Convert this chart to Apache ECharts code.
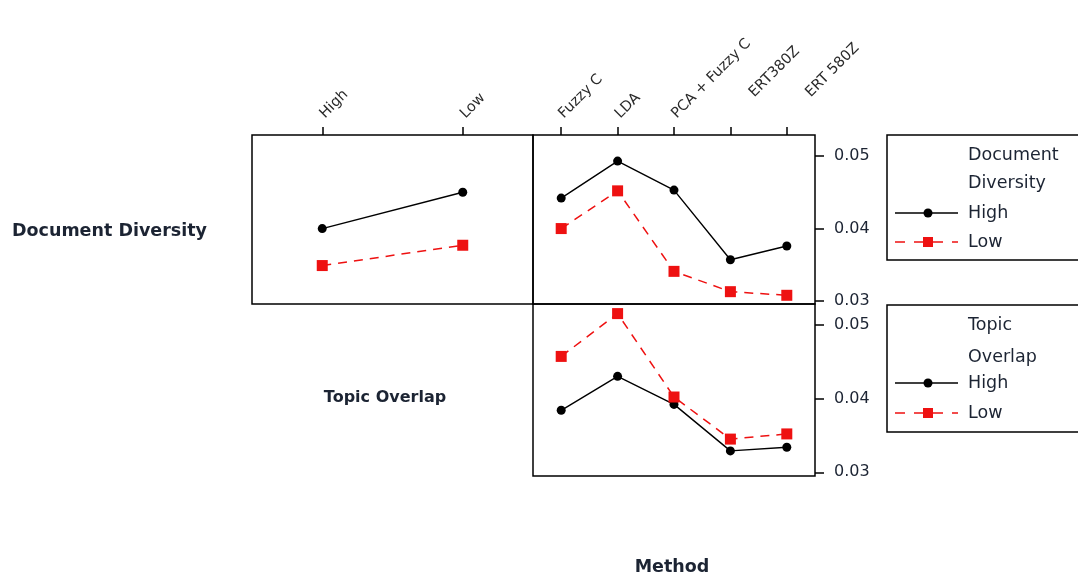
<!DOCTYPE html>
<html>
<head>
<meta charset="utf-8">
<title>Interaction Plot</title>
<script src="https://cdn.jsdelivr.net/npm/echarts@6/dist/echarts.min.js"></script>
<style>
  html, body { margin: 0; padding: 0; background: #ffffff; }
  #chart { width: 1078px; height: 576px; }
</style>
</head>
<body>
<div id="chart"></div>
<script>
// Levels of the x factors
const overlapLevels = ['High', 'Low'];
const methods = ['Fuzzy C', 'LDA', 'PCA + Fuzzy C', 'ERT380Z', 'ERT 580Z'];
const yTicks = [0.03, 0.04, 0.05];

// Document Diversity traced across Topic Overlap
const divHighByOverlap = [0.0400, 0.0450];
const divLowByOverlap = [0.0349, 0.0377];

// Document Diversity traced across Method
const divHighByMethod = [0.0442, 0.0493, 0.0453, 0.0357, 0.0376];
const divLowByMethod = [0.0400, 0.0452, 0.0341, 0.0313, 0.0308];

// Topic Overlap traced across Method
const ovHighByMethod = [0.0384, 0.0430, 0.0392, 0.0329, 0.0334];
const ovLowByMethod = [0.0457, 0.0515, 0.0402, 0.0345, 0.0352];

const FONT = 'DejaVu Sans';
const TEXT = '#1c2433';
const RED = '#ee1111';
const TICK_FONT = 14.5;

// The two ERT labels sit further out along their slant
const pushedLabels = ['ERT380Z', 'ERT 580Z'];

function highSeries(xi, yi, data) {
  return {
    type: 'line', xAxisIndex: xi, yAxisIndex: yi, data: data,
    symbol: 'circle', symbolSize: 9, showSymbol: true,
    lineStyle: { color: '#000', width: 1.4 },
    itemStyle: { color: '#000' }, z: 3, animation: false
  };
}
function lowSeries(xi, yi, data) {
  return {
    type: 'line', xAxisIndex: xi, yAxisIndex: yi, data: data,
    symbol: 'rect', symbolSize: 11, showSymbol: true,
    lineStyle: { color: RED, width: 1.5, type: [9, 7] },
    itemStyle: { color: RED }, z: 4, animation: false
  };
}

function topAxis(gi, data, showLabels) {
  return {
    type: 'category', gridIndex: gi, data: data, position: 'top',
    boundaryGap: true,
    axisLine: { show: false },
    axisTick: { show: showLabels, alignWithLabel: true, length: 8, lineStyle: { color: '#000', width: 1.5 } },
    axisLabel: {
      show: showLabels, rotate: -45, margin: 19, interval: 0,
      fontFamily: FONT, fontSize: TICK_FONT, color: '#2a2a2a',
      formatter: v => pushedLabels.indexOf(v) >= 0 ? '{far|' + v + '}' : v,
      rich: {
        far: { fontFamily: FONT, fontSize: TICK_FONT, color: '#2a2a2a', padding: [0, 0, 0, 30] }
      }
    },
    splitLine: { show: false }
  };
}

function valueAxis(gi, min, max, show) {
  return {
    type: 'value', gridIndex: gi, min: min, max: max, position: 'right',
    axisLine: { show: false },
    axisTick: { show: show, customValues: yTicks, length: 9, lineStyle: { color: '#000', width: 1.5 } },
    axisLabel: {
      show: show, customValues: yTicks, margin: 19,
      fontFamily: FONT, fontSize: 16, color: TEXT,
      formatter: v => v.toFixed(2)
    },
    splitLine: { show: false }
  };
}

const frame = { show: true, borderColor: '#000', borderWidth: 1.5, backgroundColor: 'transparent' };

// Legend blocks drawn at the right edge
function legendBlock(top, line1, line2, y1, y2, yHigh, yLow, height) {
  const f = '17.5px ' + FONT;
  return [
    { type: 'rect', shape: { x: 887, y: top, width: 220, height: height },
      style: { fill: 'none', stroke: '#000', lineWidth: 1.5 } },
    { type: 'text', x: 968, y: y1, style: { text: line1, font: f, fill: TEXT, textVerticalAlign: 'middle' } },
    { type: 'text', x: 968, y: y2, style: { text: line2, font: f, fill: TEXT, textVerticalAlign: 'middle' } },
    { type: 'line', shape: { x1: 895, y1: yHigh, x2: 958, y2: yHigh }, style: { stroke: '#000', lineWidth: 1.5 } },
    { type: 'circle', shape: { cx: 928, cy: yHigh, r: 4.5 }, style: { fill: '#000' } },
    { type: 'text', x: 968, y: yHigh, style: { text: 'High', font: f, fill: TEXT, textVerticalAlign: 'middle' } },
    { type: 'line', shape: { x1: 895, y1: yLow, x2: 958, y2: yLow }, style: { stroke: RED, lineWidth: 1.5, lineDash: [10, 9] } },
    { type: 'rect', shape: { x: 923, y: yLow - 5, width: 10, height: 10 }, style: { fill: RED } },
    { type: 'text', x: 968, y: yLow, style: { text: 'Low', font: f, fill: TEXT, textVerticalAlign: 'middle' } }
  ];
}

const chart = echarts.init(document.getElementById('chart'), null, { renderer: 'canvas' });

chart.setOption({
  backgroundColor: '#ffffff',
  animation: false,
  grid: [
    Object.assign({ left: 252, top: 135, width: 281, height: 169 }, frame),
    Object.assign({ left: 533, top: 135, width: 282, height: 169 }, frame),
    Object.assign({ left: 533, top: 304, width: 282, height: 172 }, frame)
  ],
  xAxis: [
    topAxis(0, overlapLevels, true),
    topAxis(1, methods, true),
    topAxis(2, methods, false)
  ],
  yAxis: [
    valueAxis(0, 0.0296, 0.0529, false),
    valueAxis(1, 0.0296, 0.0529, true),
    valueAxis(2, 0.0295, 0.0528, true)
  ],
  series: [
    highSeries(0, 0, divHighByOverlap),
    lowSeries(0, 0, divLowByOverlap),
    highSeries(1, 1, divHighByMethod),
    lowSeries(1, 1, divLowByMethod),
    highSeries(2, 2, ovHighByMethod),
    lowSeries(2, 2, ovLowByMethod)
  ],
  graphic: [
    { type: 'text', x: 12, y: 231, style: { text: 'Document Diversity', font: 'bold 17.5px ' + FONT, fill: TEXT, textVerticalAlign: 'middle' } },
    { type: 'text', x: 385, y: 398, style: { text: 'Topic Overlap', font: 'bold 16px ' + FONT, fill: TEXT, textAlign: 'center', textVerticalAlign: 'middle' } },
    { type: 'text', x: 672, y: 567, style: { text: 'Method', font: 'bold 17.5px ' + FONT, fill: TEXT, textAlign: 'center', textVerticalAlign: 'middle' } }
  ]
    .concat(legendBlock(135, 'Document', 'Diversity', 155, 183, 213, 242, 125))
    .concat(legendBlock(305, 'Topic', 'Overlap', 325, 357, 383, 413, 127))
});
</script>
</body>
</html>
